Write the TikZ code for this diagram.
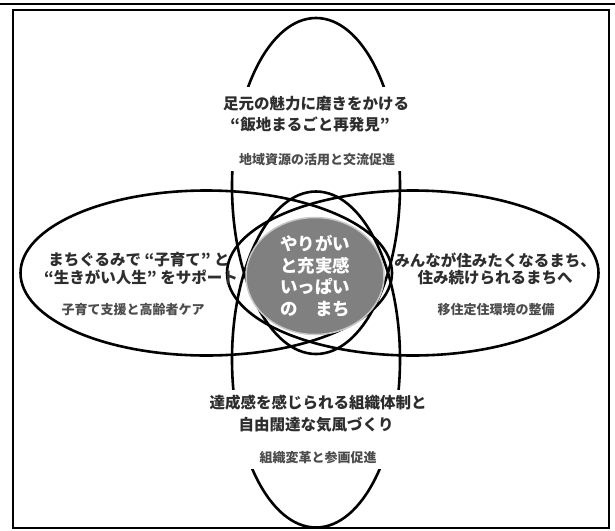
\documentclass[tikz,border=0pt]{standalone}
\usepackage{fontspec}
\newfontfamily\jp{Noto Sans CJK JP}
\definecolor{txt}{RGB}{45,45,45}
\definecolor{hubgray}{RGB}{128,128,128}
\definecolor{hubrim}{RGB}{200,200,200}
\tikzset{
  ring/.style={draw=black, line width=2.6pt},
  mask/.style={fill=white, draw=none, inner sep=0pt},
  head/.style={font=\jp\bfseries\fontsize{15.5pt}{18pt}\selectfont, text=txt, inner sep=0pt},
  subhead/.style={font=\jp\bfseries\fontsize{13pt}{15pt}\selectfont, text=txt!85!white, inner sep=0pt},
  hubtext/.style={font=\jp\bfseries\fontsize{17.5pt}{21.5pt}\selectfont, text=white, align=center, inner sep=0pt},
}
\begin{document}
\begin{tikzpicture}[x=1pt,y=-1pt]
\useasboundingbox (0,0) rectangle (615,530);
% header rule and frame
\draw[line width=2.7pt] (0,4) -- (615,4);
\draw[line width=2pt] (13,10) rectangle (609,528);
% four petals
\draw[ring] (316,186) ellipse [x radius=84pt, y radius=168pt];
\draw[ring] (316,359.5) ellipse [x radius=84pt, y radius=168pt];
\draw[ring] (206.25,273) ellipse [x radius=185.75pt, y radius=82.5pt];
\draw[ring] (412.75,273) ellipse [x radius=185.75pt, y radius=82.5pt];
% hub
\draw[fill=hubgray, draw=hubrim, line width=1.5pt] (315,276) ellipse [x radius=69pt, y radius=58.5pt];
\node[hubtext] (hub) at (315,276) {やりがい\\と充実感\\いっぱい\\の　まち};
% masks behind top and bottom texts
\node[mask, minimum width=194pt, minimum height=84pt] (topmask) at (316,129) {};
\node[mask, minimum width=194pt, minimum height=79pt] (botmask) at (316,429) {};
% top
\node[head] (t1) at (316,104) {足元の魅力に磨きをかける};
\node[head] (t2) at (310,124) {“飯地まるごと再発見”};
\node[subhead] (t3) at (317,160) {地域資源の活用と交流促進};
% left
\node[head] (l1) at (139,260) {まちぐるみで “子育て” と};
\node[head] (l2) at (141,277) {“生きがい人生” をサポート};
\node[subhead] (l3) at (133,310) {子育て支援と高齢者ケア};
% right
\node[head] (r1) at (495,260) {みんなが住みたくなるまち、};
\node[head] (r2) at (495,278) {住み続けられるまちへ};
\node[subhead] (r3) at (496,310) {移住定住環境の整備};
% bottom
\node[head] (b1) at (318,403) {達成感を感じられる組織体制と};
\node[head] (b2) at (316,425) {自由闊達な気風づくり};
\node[subhead] (b3) at (318,458) {組織変革と参画促進};
\end{tikzpicture}
\end{document}
